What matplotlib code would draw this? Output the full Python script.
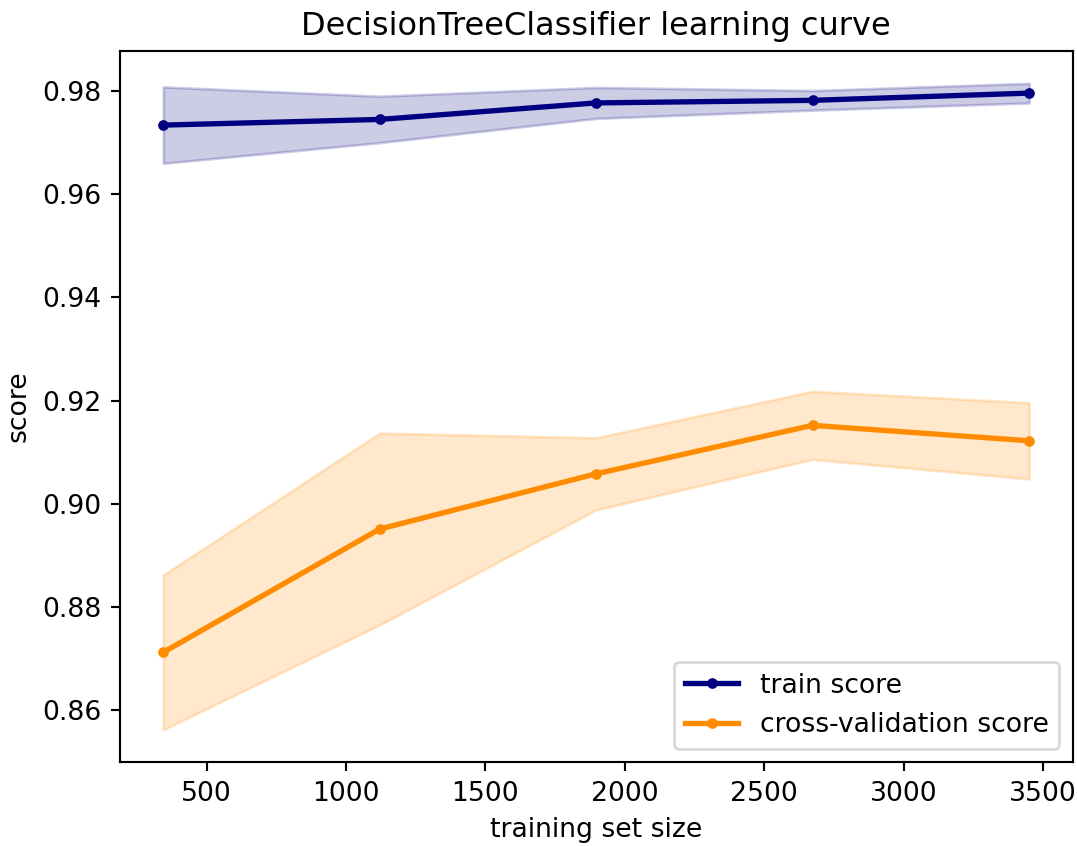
import numpy as np
import matplotlib
matplotlib.use("Agg")
import matplotlib.pyplot as plt

# learning curve values
train_sizes = [345, 1121, 1897, 2673, 3450]
train_mean = [0.9734, 0.9745, 0.9777, 0.9782, 0.9796]
train_std = [0.0074, 0.0045, 0.0030, 0.0019, 0.0019]
cv_mean = [0.8712, 0.8951, 0.9058, 0.9152, 0.9122]
cv_std = [0.0150, 0.0186, 0.0070, 0.0066, 0.0074]

W, H, DPI = 1077, 846, 192
fig = plt.figure(figsize=(W / DPI, H / DPI), dpi=DPI)
ax = fig.add_axes([120 / W, (H - 762) / H, (1072.5 - 120) / W, (762 - 51) / H])

sizes = np.array(train_sizes)
tm, ts = np.array(train_mean), np.array(train_std)
cm, cs = np.array(cv_mean), np.array(cv_std)

ax.plot(sizes, tm, ".-", color="navy", lw=2, label="train score")
ax.fill_between(sizes, tm - ts, tm + ts, color="navy", alpha=0.2)
ax.plot(sizes, cm, ".-", color="darkorange", lw=2, label="cross-validation score")
ax.fill_between(sizes, cm - cs, cm + cs, color="darkorange", alpha=0.2)

ax.set_title("DecisionTreeClassifier learning curve")
ax.set_xlabel("training set size")
ax.set_ylabel("score")
ax.legend(loc="lower right")

fig.savefig("out.png", dpi=DPI)
